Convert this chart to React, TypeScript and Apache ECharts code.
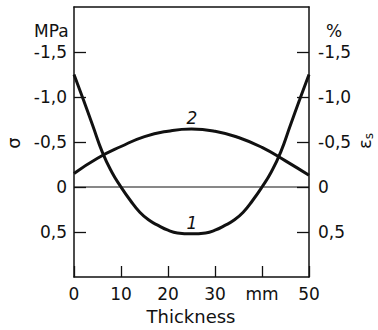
import React, { useEffect, useRef } from "react";
import * as echarts from "echarts";

const thickness1 = [0, 2, 4, 6, 8, 10, 12, 14, 16, 18, 20, 22, 25, 28, 30, 32, 34, 36, 38, 40, 42, 44, 46, 48, 50];
const stress1 = [-1.25, -0.97, -0.68, -0.39, -0.17, 0, 0.15, 0.28, 0.37, 0.43, 0.48, 0.51, 0.52, 0.51, 0.48, 0.43, 0.37, 0.28, 0.15, 0, -0.17, -0.39, -0.68, -0.97, -1.25];
const thickness2 = [0, 5, 10, 15, 20, 25, 30, 35, 40, 45, 50];
const strain2 = [-0.15, -0.32, -0.45, -0.56, -0.62, -0.645, -0.62, -0.55, -0.44, -0.29, -0.13];
const zeroLine = [[0, 0], [50, 0]];
const yTicks = [-1.5, -1.0, -0.5, 0, 0.5];
const xTicks = [0, 10, 20, 30, 40, 50];
const xTickLabels = ["0", "10", "20", "30", "mm", "50"];

const FONT = "DejaVu Sans";
const INK = "#111";

function fmtY(v: number): string {
  if (Math.abs(v) < 1e-9) return "0";
  return v.toFixed(1).replace(".", ",");
}

export default function App() {
  const ref = useRef<HTMLDivElement>(null);
  useEffect(() => {
    if (!ref.current) return;
    const chart = echarts.init(ref.current, null, { renderer: "svg" });
    const axisLine = { show: true, onZero: false, lineStyle: { color: INK, width: 1.5 } };
    const yAxisBase = (pos: "left" | "right") => ({
      type: "value" as const,
      position: pos,
      inverse: true,
      min: -2,
      max: 1,
      interval: 0.5,
      axisLine,
      splitLine: { show: false },
      axisTick: {
        show: true,
        inside: true,
        length: 12,
        customValues: yTicks,
        lineStyle: { color: INK, width: 1.3 },
      },
      axisLabel: {
        show: true,
        customValues: yTicks,
        formatter: (v: number) => fmtY(v),
        margin: pos === "left" ? 7 : 9,
        fontFamily: FONT,
        fontSize: 17,
        color: INK,
      },
    });
    chart.setOption({
      animation: false,
      grid: { left: 74, right: 69, top: 7, bottom: 53 },
      xAxis: [
        {
          type: "value",
          min: 0,
          max: 50,
          interval: 10,
          axisLine,
          splitLine: { show: false },
          axisTick: { show: true, inside: true, length: 11, lineStyle: { color: INK, width: 1.3 } },
          axisLabel: {
            margin: 8,
            fontFamily: FONT,
            fontSize: 17,
            color: INK,
            formatter: (v: number) => {
              const i = xTicks.indexOf(v);
              return i >= 0 ? xTickLabels[i] : "";
            },
          },
        },
        {
          type: "value",
          position: "top",
          min: 0,
          max: 50,
          axisLine,
          splitLine: { show: false },
          axisTick: { show: false },
          axisLabel: { show: false },
        },
      ],
      yAxis: [yAxisBase("left"), yAxisBase("right")],
      series: [
        {
          type: "line",
          data: zeroLine,
          symbol: "none",
          lineStyle: { color: INK, width: 1 },
        },
        {
          type: "line",
          data: thickness1.map((x, i) => [x, stress1[i]]),
          symbol: "none",
          smooth: true,
          lineStyle: { color: INK, width: 3 },
        },
        {
          type: "line",
          data: thickness2.map((x, i) => [x, strain2[i]]),
          symbol: "none",
          smooth: true,
          lineStyle: { color: INK, width: 3 },
        },
      ],
      graphic: [
        { type: "text", left: 34, top: 22, style: { text: "MPa", font: `17px "${FONT}"`, fill: INK } },
        { type: "text", left: 326, top: 22, style: { text: "%", font: `17px "${FONT}"`, fill: INK } },
        {
          type: "text",
          x: 13,
          y: 143,
          rotation: Math.PI / 2,
          style: { text: "σ", font: `18px "${FONT}"`, fill: INK, align: "center", verticalAlign: "middle" },
        },
        {
          type: "text",
          x: 364,
          y: 141,
          rotation: Math.PI / 2,
          style: {
            text: "{e|ε}{s|s}",
            align: "center",
            verticalAlign: "middle",
            rich: {
              e: { font: `18px "${FONT}"`, fill: INK },
              s: { font: `12px "${FONT}"`, fill: INK, padding: [10, 0, 0, 0] },
            },
          },
        },
        {
          type: "text",
          x: 191,
          y: 316,
          style: { text: "Thickness", font: `18px "${FONT}"`, fill: INK, align: "center", verticalAlign: "middle" },
        },
        {
          type: "text",
          x: 192,
          y: 223,
          style: { text: "1", font: `italic 17px "${FONT}"`, fill: INK, align: "center", verticalAlign: "middle" },
        },
        {
          type: "text",
          x: 192,
          y: 118,
          style: { text: "2", font: `italic 17px "${FONT}"`, fill: INK, align: "center", verticalAlign: "middle" },
        },
      ],
    });
    return () => chart.dispose();
  }, []);
  return <div ref={ref} style={{ width: 378, height: 330, position: "absolute", left: 0, top: 0 }} />;
}
